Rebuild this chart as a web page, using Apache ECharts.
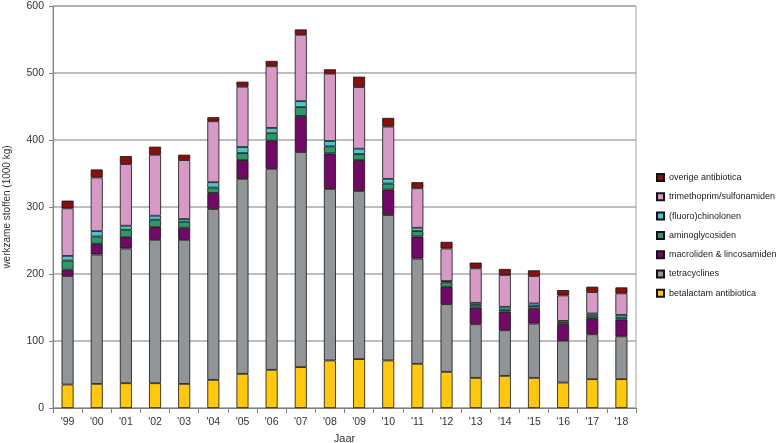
<!DOCTYPE html>
<html>
<head>
<meta charset="utf-8">
<script src="https://cdn.jsdelivr.net/npm/echarts@6/dist/echarts.min.js"></script>
<style>html,body{margin:0;padding:0;background:#fff}#c{width:778px;height:443px}</style>
</head>
<body>
<div id="c"></div>
<script>
const years = ["'99","'00","'01","'02","'03","'04","'05","'06","'07","'08","'09","'10","'11","'12","'13","'14","'15","'16","'17","'18"];
const betalactam = [35,36,37,37,36,42,51,57,61,71,73,71,66,54,45,48,45,38,43,43];
const tetracyclines = [162,193,201,214,215,255,291,300,321,256,251,217,157,101,80,68,81,62.5,67,64];
const macroliden = [9.5,16,17,19,18,24,28,42,54,53,46,38,33,26,25,28,22,23.5,24,25];
const aminoglycosiden = [13.5,11,11,11,9,8,10.5,11,13,10.5,9,9,8,6.5,4,3,4,3,4,3];
const fluorochinolonen = [7,8,6,6,4,8,9,8,9,8,8,7,5,2,3,4,4,3,3,4];
const trimethoprim = [71,80,92,91,88,91,90,92,99,100.5,92,78,59,48.5,51.5,47.5,41,38,32,32];
const overige = [11.5,12,12,12,8,6,7.5,8,8,6.5,15.5,13,9,10,8.5,9,8.5,8,8,9];
const yTicks = [0,100,200,300,400,500,600];

const seriesDefs = [
  {name:'betalactam antibiotica', data:betalactam, color:'#FFC80F'},
  {name:'tetracyclines', data:tetracyclines, color:'#919598'},
  {name:'macroliden & lincosamiden', data:macroliden, color:'#700A66'},
  {name:'aminoglycosiden', data:aminoglycosiden, color:'#2F9868'},
  {name:'(fluoro)chinolonen', data:fluorochinolonen, color:'#4EC3CF'},
  {name:'trimethoprim/sulfonamiden', data:trimethoprim, color:'#D79AC6'},
  {name:'overige antibiotica', data:overige, color:'#8A0F0F'}
];

const font = 'Liberation Sans, Arial, sans-serif';
const chart = echarts.init(document.getElementById('c'));
chart.setOption({
  animation:false,
  textStyle:{fontFamily:font},
  grid:{left:53, right:142, top:6, bottom:35, show:true, borderColor:'#a0a0a0', borderWidth:1, outerBoundsMode:'none', containLabel:false},
  legend:{
    orient:'vertical', left:651, top:168, itemWidth:7, itemHeight:7, itemGap:10.3,
    data: seriesDefs.map(s=>s.name).reverse(),
    textStyle:{fontSize:9, color:'#222', fontFamily:font},
    icon:'rect'
  },
  xAxis:{
    type:'category', data:years,
    name:'Jaar', nameLocation:'middle', nameGap:25,
    nameTextStyle:{fontSize:11, color:'#333'},
    axisLine:{lineStyle:{color:'#808080'}},
    axisTick:{show:true, length:5, lineStyle:{color:'#808080'}},
    axisLabel:{fontSize:10.5, color:'#333', margin:9}
  },
  yAxis:{
    type:'value', min:yTicks[0], max:yTicks[yTicks.length-1], interval:100,
    name:'werkzame stoffen (1000 kg)', nameLocation:'middle', nameGap:41,
    nameTextStyle:{fontSize:10, color:'#333'},
    axisLine:{show:true, lineStyle:{color:'#808080'}},
    axisTick:{show:true, length:4, lineStyle:{color:'#808080'}},
    axisLabel:{fontSize:10.5, color:'#333', margin:9},
    splitLine:{lineStyle:{color:'#a8a8a8', width:1.5}}
  },
  series: seriesDefs.map(s=>({
    name:s.name, type:'bar', stack:'total', data:s.data, barWidth:12,
    itemStyle:{color:s.color, borderColor:'#111', borderWidth:0.8}
  }))
});
</script>
</body>
</html>
